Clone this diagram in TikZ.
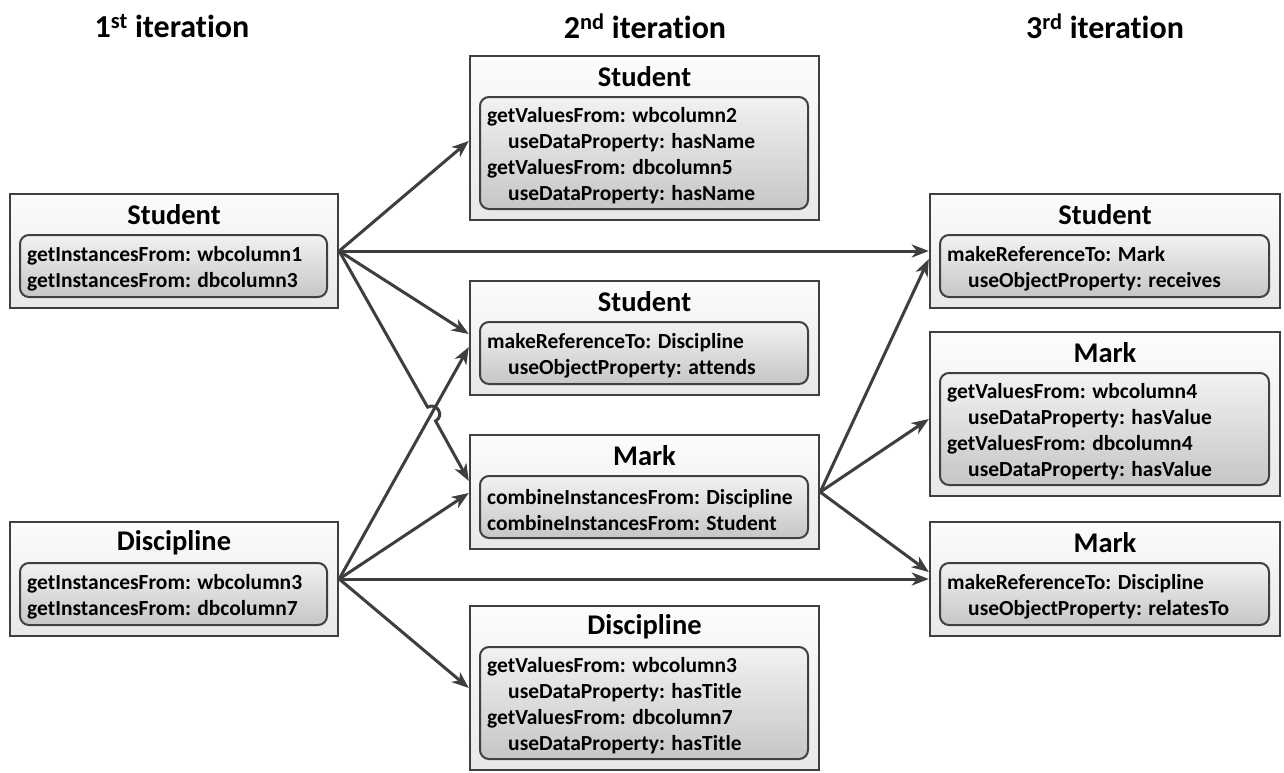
\documentclass[tikz,border=0pt]{standalone}
\usepackage{fontspec}
\setmainfont{Carlito}[Ligatures={NoCommon,NoContextual}]
\usetikzlibrary{arrows.meta,calc}
\definecolor{bordc}{RGB}{64,64,64}
\definecolor{arrc}{RGB}{62,62,62}
\definecolor{boxtop}{RGB}{252,252,252}
\definecolor{boxbot}{RGB}{232,232,232}
\definecolor{intop}{RGB}{242,242,242}
\definecolor{inbot}{RGB}{198,198,198}
\tikzset{
  outerbox/.style={draw=bordc, line width=2.4pt, top color=boxtop, bottom color=boxbot, inner sep=0pt, rectangle},
  innerbox/.style={draw=bordc, line width=2pt, rounded corners=9pt, top color=intop, bottom color=inbot, inner sep=0pt, rectangle},
  titletext/.style={font=\fontsize{28.5}{30}\selectfont\bfseries, inner sep=0pt},
  bodytext/.style={font=\fontsize{21.5}{26}\selectfont\bfseries, align=left, inner sep=0pt, anchor=west},
  hdr/.style={font=\fontsize{32}{34}\selectfont\bfseries, inner sep=0pt},
  conn/.style={draw=arrc, line width=3pt, -{Stealth[length=17pt,width=13pt,inset=5pt]}}
}
\newcommand{\classbox}[7]{%
  \pgfmathsetmacro{\oh}{#5+52}%
  \pgfmathsetmacro{\cx}{#2+#4/2}%
  \pgfmathsetmacro{\cy}{#3+\oh/2}%
  \node[outerbox, minimum width=#4pt, minimum height=\oh pt] (#1) at (\cx,\cy) {};
  \node[titletext] (#1-t) at (\cx,#3+21) {#6};
  \pgfmathsetmacro{\iw}{#4-21}%
  \pgfmathsetmacro{\icx}{#2+10+\iw/2}%
  \pgfmathsetmacro{\icy}{#3+41+#5/2}%
  \node[innerbox, minimum width=\iw pt, minimum height=#5pt] (#1-i) at (\icx,\icy) {};
  \node[bodytext] (#1-b) at (#2+17,\icy+3) {#7};
}
\newcommand{\ind}{\hspace*{21pt}}
\begin{document}
\begin{tikzpicture}[x=1pt,y=-1pt]
\useasboundingbox (0,0) rectangle (1284,772);
% headers
\node[hdr] (h1) at (172,26) {1\textsuperscript{st} iteration};
\node[hdr] (h2) at (645,26) {2\textsuperscript{nd} iteration};
\node[hdr] (h3) at (1105,26) {3\textsuperscript{rd} iteration};
% first iteration
\classbox{ls}{10}{194}{328}{62}{Student}{getInstancesFrom: wbcolumn1\\getInstancesFrom: dbcolumn3}
\classbox{ld}{10}{522}{328}{62}{Discipline}{getInstancesFrom: wbcolumn3\\getInstancesFrom: dbcolumn7}
% second iteration
\classbox{ms1}{470}{56}{349}{112}{Student}{getValuesFrom: wbcolumn2\\\ind useDataProperty: hasName\\getValuesFrom: dbcolumn5\\\ind useDataProperty: hasName}
\classbox{ms2}{470}{281}{349}{62}{Student}{makeReferenceTo: Discipline\\\ind useObjectProperty: attends}
\classbox{mm}{470}{435}{349}{62}{Mark}{combineInstancesFrom: Discipline\\combineInstancesFrom: Student}
\classbox{md}{470}{606}{349}{112}{Discipline}{getValuesFrom: wbcolumn3\\\ind useDataProperty: hasTitle\\getValuesFrom: dbcolumn7\\\ind useDataProperty: hasTitle}
% third iteration
\classbox{rs}{930}{194}{350}{62}{Student}{makeReferenceTo: Mark\\\ind useObjectProperty: receives}
\classbox{rm1}{930}{332}{350}{112}{Mark}{getValuesFrom: wbcolumn4\\\ind useDataProperty: hasValue\\getValuesFrom: dbcolumn4\\\ind useDataProperty: hasValue}
\classbox{rm2}{930}{522}{350}{62}{Mark}{makeReferenceTo: Discipline\\\ind useObjectProperty: relatesTo}
% hop coordinates
\coordinate (hopA) at (427.6,407.2);
\coordinate (hopC1) at (436.9,401.9);
\coordinate (hopC2) at (444.8,415.7);
\coordinate (hopB) at (435.6,421.0);
% connectors
\draw[conn] (ls.east) -- ([yshift=-3pt]ms1.west);
\draw[conn] (ls.east) -- (rs.west);
\draw[conn] (ls.east) -- ([yshift=4pt]ms2.west);
\draw[conn] (ld.east) -- ([yshift=-9pt]ms2.west);
\draw[conn] (ls.east) -- (hopA) .. controls (hopC1) and (hopC2) .. (hopB) -- ([yshift=11pt]mm.west);
\draw[conn] (ld.east) -- ([yshift=-1pt]mm.west);
\draw[conn] (ld.east) -- (rm2.west);
\draw[conn] (ld.east) -- (md.west);
\draw[conn] (mm.east) -- ([yshift=-8pt]rs.west);
\draw[conn] (mm.east) -- ([yshift=-5pt]rm1.west);
\draw[conn] (mm.east) -- ([yshift=7pt]rm2.west);
\end{tikzpicture}
\end{document}
